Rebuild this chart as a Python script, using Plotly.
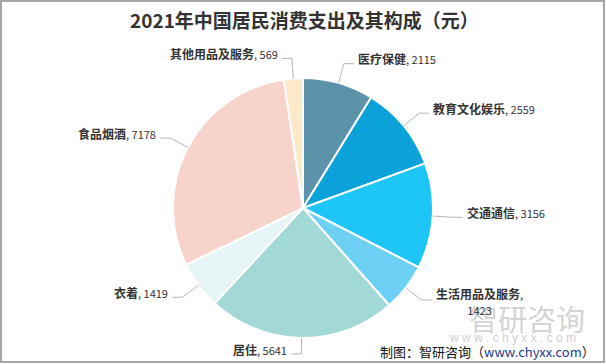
import math
import plotly.graph_objects as go

# ---- data ----
categories = ["医疗保健", "教育文化娱乐", "交通通信", "生活用品及服务",
              "居住", "衣着", "食品烟酒", "其他用品及服务"]
values = [2115, 2559, 3156, 1423, 5641, 1419, 7178, 569]
colors = ["#5c93aa", "#0aa2d8", "#1ec6f8", "#6ccff4",
          "#a2d8d5", "#e6f4f5", "#f8d3cb", "#fbe9c8"]
title_text = "2021年中国居民消费支出及其构成（元）"

# ---- layout geometry ----
W, H = 606, 364
cx, cy, R = 303, 208, 130
FONT = "Noto Sans CJK SC"


def px(x):
    return x / W


def py(y):
    return 1 - y / H


fig = go.Figure(go.Pie(
    labels=categories, values=values, sort=False, direction="clockwise",
    rotation=0, textinfo="none", hoverinfo="label+value+percent",
    marker=dict(colors=colors, line=dict(color="white", width=2)),
    domain=dict(x=[px(cx - R), px(cx + R)], y=[py(cy + R), py(cy - R)]),
    showlegend=False,
))

shapes = []
annotations = []

# watermark (behind labels)
annotations.append(dict(x=px(527), y=py(318), xref="paper", yref="paper",
                        text="智研咨询", showarrow=False,
                        font=dict(family=FONT, size=29, color="#d4d4d4"),
                        xanchor="center", yanchor="middle"))
annotations.append(dict(x=px(512), y=py(338), xref="paper", yref="paper",
                        text="w w w . c h y x x . c o m", showarrow=False,
                        font=dict(family="Arial", size=12, color="#cfcfcf"),
                        xanchor="center", yanchor="middle"))

total = sum(values)
cum = 0
L1, L2 = 20, 10
for name, v in zip(categories, values):
    mid = (cum + v / 2) / total * 2 * math.pi
    cum += v
    s, c = math.sin(mid), math.cos(mid)
    sx, sy = cx + R * s, cy - R * c
    ex, ey = cx + (R + L1) * s, cy - (R + L1) * c
    ey = min(ey, H - 10)
    right = s >= 0
    hx = ex + (L2 if right else -L2)
    line_style = dict(color="#b5b5b5", width=1)
    shapes.append(dict(type="line", xref="paper", yref="paper",
                       x0=px(sx), y0=py(sy), x1=px(ex), y1=py(ey), line=line_style))
    shapes.append(dict(type="line", xref="paper", yref="paper",
                       x0=px(ex), y0=py(ey), x1=px(hx), y1=py(ey), line=line_style))
    est_w = len(name) * 12.5 + 7 + len(str(v)) * 6.5
    tx = hx + (2 if right else -2)
    sep = ", "
    if right and tx + est_w > 551:
        sep = ",<br>"
    text = (f"<b>{name}</b><span style='font-size:11px'>{sep}{v}</span>")
    annotations.append(dict(
        x=px(tx), y=py(ey - 5 + (7 if sep != ", " else 0)), xref="paper", yref="paper",
        text=text, showarrow=False, align="center",
        font=dict(family=FONT, size=12, color="#333333"),
        xanchor="left" if right else "right", yanchor="middle"))

# title
annotations.append(dict(x=px(304), y=py(19), xref="paper", yref="paper",
                        text=f"<b>{title_text}</b>", showarrow=False,
                        font=dict(family=FONT, size=19, color="#333333"),
                        xanchor="center", yanchor="middle"))
# source
annotations.append(dict(x=px(597), y=py(351), xref="paper", yref="paper",
                        text="制图：智研咨询（<span style='color:#1d3a8a'>www.chyxx.com</span>）",
                        showarrow=False,
                        font=dict(family=FONT, size=13, color="#111111"),
                        xanchor="right", yanchor="middle"))

# outer frame
shapes.append(dict(type="rect", xref="paper", yref="paper",
                   x0=px(1), x1=px(604), y0=py(362), y1=py(1),
                   line=dict(color="#a6a6a6", width=2)))

fig.update_layout(
    width=W, height=H,
    margin=dict(l=0, r=0, t=0, b=0),
    paper_bgcolor="white", plot_bgcolor="white",
    shapes=shapes, annotations=annotations,
)

fig.write_html("out.html", config={"displayModeBar": False},
               post_script="document.body.style.margin='0';document.body.style.overflow='hidden';")
